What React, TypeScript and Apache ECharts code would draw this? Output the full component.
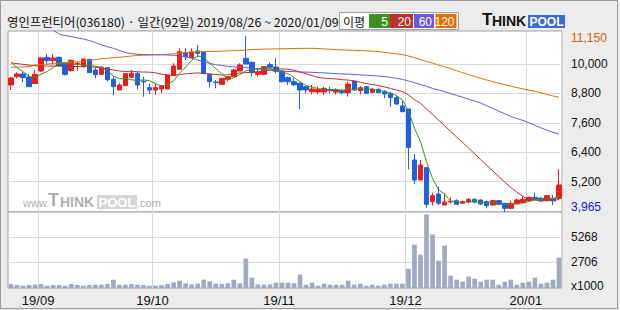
import React, { useEffect, useRef } from 'react';
import * as echarts from 'echarts';

const dates = [
  '2019/08/26','2019/08/27','2019/08/28','2019/08/29','2019/08/30',
  '2019/09/02','2019/09/03','2019/09/04','2019/09/05','2019/09/06','2019/09/09','2019/09/10','2019/09/11','2019/09/16','2019/09/17','2019/09/18','2019/09/19','2019/09/20','2019/09/23','2019/09/24','2019/09/25','2019/09/26','2019/09/27','2019/09/30',
  '2019/10/01','2019/10/02','2019/10/04','2019/10/07','2019/10/08','2019/10/10','2019/10/11','2019/10/14','2019/10/15','2019/10/16','2019/10/17','2019/10/18','2019/10/21','2019/10/22','2019/10/23','2019/10/24','2019/10/25','2019/10/28','2019/10/29','2019/10/30','2019/10/31',
  '2019/11/01','2019/11/04','2019/11/05','2019/11/06','2019/11/07','2019/11/08','2019/11/11','2019/11/12','2019/11/13','2019/11/14','2019/11/15','2019/11/18','2019/11/19','2019/11/20','2019/11/21','2019/11/22','2019/11/25','2019/11/26','2019/11/27','2019/11/28','2019/11/29',
  '2019/12/02','2019/12/03','2019/12/04','2019/12/05','2019/12/06','2019/12/09','2019/12/10','2019/12/11','2019/12/12','2019/12/13','2019/12/16','2019/12/17','2019/12/18','2019/12/19','2019/12/20','2019/12/23','2019/12/24','2019/12/26','2019/12/27','2019/12/30',
  '2020/01/02','2020/01/03','2020/01/06','2020/01/07','2020/01/08','2020/01/09',
];

const opens = [
  9147, 9487, 9596, 9473, 9201, 9718, 10276, 10140, 10276, 10045,
  9732, 9990, 9895, 10194, 9759, 9582, 9854, 9378, 8943, 9120,
  9460, 9609, 9297, 9038, 8943, 8984, 8984, 9528, 9786, 10466,
  10262, 10534, 10493, 9582, 9270, 9174, 9378, 9487, 9718, 10235,
  10072, 9582, 9582, 9977, 9881, 9718, 9446, 9283, 9215, 9079,
  8875, 8861, 8861, 8957, 8861, 8916, 8834, 9310, 8916, 9079,
  8848, 8970, 8875, 8807, 8630, 8290, 8168, 6087, 5271, 5774,
  4387, 4700, 4251, 4373, 4428, 4319, 4373, 4482, 4455, 4387,
  4251, 4428, 4319, 4115, 4292, 4346, 4428, 4564, 4523, 4428,
  4523, 4523,
];
const closes = [
  9433, 9596, 9446, 9079, 9582, 10249, 10140, 10249, 9936, 9582,
  10153, 10031, 10208, 9650, 9569, 9868, 9365, 9079, 9147, 9609,
  9623, 9147, 9270, 8943, 9038, 9106, 9555, 9922, 10507, 10303,
  10493, 10439, 9623, 9283, 9242, 9419, 9487, 9759, 9963, 10004,
  9650, 9677, 9895, 9868, 9705, 9283, 9283, 9160, 8943, 8943,
  8984, 8957, 9011, 8916, 8943, 8834, 9188, 8943, 9038, 8807,
  8970, 8834, 8780, 8630, 8372, 8059, 6604, 5271, 5883, 4278,
  4632, 4319, 4373, 4401, 4278, 4387, 4482, 4373, 4292, 4224,
  4428, 4278, 4115, 4319, 4455, 4482, 4564, 4482, 4414, 4632,
  4414, 5067,
];
const lows = [
  8943, 9419, 9256, 9079, 9201, 9677, 9963, 9977, 9895, 9528,
  9691, 9732, 9854, 9650, 9419, 9555, 9283, 8739, 8943, 9120,
  9460, 8970, 8671, 8780, 8739, 8807, 8984, 9528, 9786, 10167,
  10262, 10276, 9582, 9052, 9011, 9174, 9283, 9487, 9718, 10004,
  9487, 9487, 9555, 9827, 9623, 9256, 9147, 9106, 8168, 8807,
  8766, 8766, 8739, 8807, 8766, 8766, 8671, 8902, 8766, 8766,
  8820, 8807, 8603, 8263, 8331, 8032, 5706, 5108, 5271, 4142,
  4224, 4251, 4251, 4319, 4278, 4292, 4319, 4319, 4251, 4115,
  4224, 4251, 3965, 4088, 4292, 4346, 4428, 4455, 4387, 4387,
  4251, 4455,
];
const highs = [
  9487, 9664, 9691, 9596, 9759, 10276, 10412, 10412, 10303, 10085,
  10194, 10099, 10221, 10194, 9854, 9922, 9854, 9487, 9215, 9609,
  9759, 9691, 9487, 9215, 9215, 9147, 9555, 10031, 10643, 10643,
  10643, 10779, 10493, 9623, 9351, 9419, 9514, 9800, 10031, 11150,
  10099, 9827, 9895, 10058, 10235, 9759, 9487, 9446, 9242, 9079,
  9147, 9079, 9079, 9079, 9011, 8970, 9283, 9310, 9106, 9106,
  9011, 9011, 8943, 8875, 8698, 8508, 8168, 6332, 6087, 5774,
  4754, 4999, 4727, 4564, 4482, 4428, 4523, 4523, 4482, 4428,
  4455, 4455, 4346, 4428, 4523, 4618, 4591, 4754, 4591, 4659,
  4659, 5706,
];
const volumes = [
  416, 312, 243, 312, 347, 416, 243, 312, 312, 243,
  416, 312, 243, 312, 347, 347, 416, 868, 347, 347,
  416, 347, 312, 243, 243, 312, 416, 590, 763, 486,
  382, 451, 868, 694, 451, 416, 486, 868, 486, 3054,
  1076, 382, 347, 382, 555, 555, 555, 486, 1388, 347,
  555, 243, 451, 347, 347, 347, 763, 347, 451, 243,
  347, 243, 347, 451, 451, 451, 2013, 4511, 3470, 7634,
  5552, 2845, 4407, 1284, 868, 659, 1180, 972, 659, 868,
  868, 347, 659, 868, 347, 555, 659, 1076, 451, 555,
  868, 3158,
];
const ma5 = [
  10080, 9850, 9690, 9500, 9427, 9590, 9699, 9860, 10031, 10031,
  10012, 9990, 9982, 9925, 9922, 9865, 9732, 9506, 9406, 9414,
  9365, 9321, 9359, 9318, 9204, 9101, 9182, 9313, 9626, 9879,
  10156, 10333, 10273, 10028, 9816, 9601, 9411, 9438, 9574, 9726,
  9773, 9811, 9838, 9819, 9759, 9686, 9607, 9460, 9275, 9122,
  9063, 8997, 8968, 8962, 8962, 8932, 8978, 8965, 8989, 8962,
  8989, 8918, 8886, 8804, 8717, 8535, 8089, 7387, 6838, 6019,
  5334, 4877, 4697, 4401, 4401, 4352, 4384, 4384, 4362, 4352,
  4360, 4319, 4267, 4273, 4319, 4330, 4387, 4460, 4479, 4515,
  4501, 4602,
];
const ma20 = [
  10050, 10020, 9990, 9960, 9930, 9920, 9920, 9920, 9920, 9910,
  9900, 9900, 9900, 9890, 9870, 9840, 9800, 9760, 9720, 9699,
  9708, 9686, 9677, 9670, 9643, 9586, 9556, 9540, 9569, 9605,
  9622, 9642, 9613, 9594, 9578, 9556, 9562, 9596, 9637, 9656,
  9658, 9684, 9715, 9762, 9795, 9804, 9790, 9752, 9674, 9606,
  9531, 9456, 9426, 9407, 9393, 9363, 9348, 9308, 9261, 9201,
  9167, 9125, 9070, 9008, 8941, 8880, 8746, 8551, 8398, 8165,
  7948, 7716, 7484, 7258, 7025, 6802, 6567, 6339, 6101, 5872,
  5645, 5417, 5184, 4968, 4773, 4594, 4492, 4452, 4429, 4447,
  4436, 4473,
];
const ma60 = [
  null, null, null, null, null, null, null, 11380, 11220, 11165,
  11120, 11070, 11024, 10960, 10880, 10790, 10710, 10643, 10560, 10470,
  10430, 10400, 10390, 10385, 10380, 10375, 10370, 10360, 10340, 10290,
  10240, 10170, 10090, 10030, 9975, 9940, 9905, 9885, 9870, 9855,
  9830, 9800, 9775, 9750, 9725, 9710, 9700, 9690, 9680, 9672,
  9664, 9655, 9640, 9625, 9610, 9600, 9590, 9575, 9560, 9545,
  9530, 9515, 9490, 9460, 9420, 9375, 9310, 9240, 9170, 9090,
  9010, 8940, 8875, 8800, 8725, 8650, 8570, 8490, 8410, 8300,
  8190, 8080, 7970, 7860, 7780, 7700, 7610, 7500, 7400, 7300,
  7216, 7140,
];
const ma120 = [
  9870, 9875, 9880, 9900, 9960, 9980, 10000, 10020, 10040, 10060,
  10080, 10090, 10100, 10130, 10180, 10220, 10240, 10260, 10280, 10300,
  10330, 10350, 10360, 10370, 10380, 10390, 10400, 10420, 10450, 10470,
  10490, 10500, 10510, 10515, 10520, 10530, 10540, 10550, 10560, 10575,
  10590, 10600, 10610, 10615, 10620, 10625, 10630, 10635, 10640, 10643,
  10643, 10635, 10620, 10605, 10590, 10580, 10570, 10560, 10550, 10540,
  10530, 10507, 10480, 10450, 10420, 10390, 10330, 10260, 10190, 10110,
  10040, 9960, 9890, 9810, 9730, 9650, 9570, 9490, 9420, 9350,
  9280, 9220, 9160, 9100, 9040, 8985, 8940, 8890, 8830, 8760,
  8700, 8650,
];

const priceGridValues = [5200, 6400, 7600, 8800, 10000];
const priceHigh = 11150;
const priceLow = 3965;
const volumeGridValues = [2706, 5268];
const volumeUnitLabel = 'x1000';
const maLabels = ['5', '20', '60', '120'];
const titleText = '영인프런티어(036180) · 일간(92일) 2019/08/26 ~ 2020/01/09';

const UP = '#ee1c1c';
const DOWN = '#1f5fe0';
const MA_COLORS = ['#3d8f1f', '#c0302a', '#6a5ad8', '#e07000'];
const GRID = '#d9d9d9';
const KR = '"Noto Sans CJK KR", sans-serif';
const LAT = '"Liberation Sans", Arial, sans-serif';

const fmt = (v: number) => String(v).replace(/\B(?=(\d{3})+(?!\d))/g, ',');

const monthStarts: number[] = [];
dates.forEach((d, i) => {
  if (i > 0 && d.slice(0, 7) !== dates[i - 1].slice(0, 7)) monthStarts.push(i);
});

export default function App() {
  const ref = useRef<HTMLDivElement>(null);
  useEffect(() => {
    if (!ref.current) return;
    const chart = echarts.init(ref.current, null, { renderer: 'svg' });
    const candles = dates.map((_, i) => [opens[i], closes[i], lows[i], highs[i]]);
    const isMonth = (i: number) => monthStarts.indexOf(i) >= 0;

    const legendX = [369, 390, 414, 435.5];
    const legendW = [21, 23, 20, 21];

    const graphic: any[] = [
      { type: 'rect', shape: { x: 0.5, y: 0.5, width: 617, height: 308 }, style: { fill: 'none', stroke: '#9a9a9a', lineWidth: 1 }, silent: true },
      { type: 'text', x: 7, y: 22, style: { text: titleText, font: `12.4px ${KR}`, fill: '#111', verticalAlign: 'middle' } },
      { type: 'rect', shape: { x: 339.5, y: 12.5, width: 119, height: 17 }, style: { fill: '#fff', stroke: '#a0a0a0', lineWidth: 1 } },
      { type: 'text', x: 343, y: 21, style: { text: '이평', font: `12px ${KR}`, fill: '#111', verticalAlign: 'middle' } },
      // logo
      { type: 'text', x: 482, y: 28, style: { text: 'T', font: `bold 17px ${LAT}`, fill: '#111', verticalAlign: 'bottom' } },
      { type: 'text', x: 492, y: 28, style: { text: 'HINK', font: `bold 14px ${LAT}`, fill: '#111', verticalAlign: 'bottom' } },
      { type: 'rect', shape: { x: 528, y: 15, width: 37, height: 13 }, style: { fill: '#3a6bd6' } },
      { type: 'text', x: 546.5, y: 28, style: { text: 'POOL', font: `bold 12px ${LAT}`, fill: '#fff', align: 'center', verticalAlign: 'bottom' } },
      // watermark
      { type: 'text', x: 23, y: 208, z: 1, style: { text: 'www.', font: `11px ${LAT}`, fill: '#b0b0b0', verticalAlign: 'bottom' } },
      { type: 'text', x: 48, y: 209, z: 1, style: { text: 'T', font: `bold 18px ${LAT}`, fill: '#b0b0b0', verticalAlign: 'bottom' } },
      { type: 'text', x: 60, y: 209, z: 1, style: { text: 'HINK', font: `bold 14px ${LAT}`, fill: '#b0b0b0', verticalAlign: 'bottom' } },
      { type: 'rect', z: 1, shape: { x: 97, y: 195, width: 40, height: 14 }, style: { fill: '#d6d6d6' } },
      { type: 'text', x: 117, y: 209, z: 1, style: { text: 'POOL', font: `bold 13px ${LAT}`, fill: '#fff', align: 'center', verticalAlign: 'bottom' } },
      { type: 'text', x: 137, y: 208, z: 1, style: { text: '.com', font: `11px ${LAT}`, fill: '#b0b0b0', verticalAlign: 'bottom' } },
    ];
    maLabels.forEach((lab, k) => {
      graphic.push({ type: 'rect', shape: { x: legendX[k], y: 14, width: legendW[k], height: 14 }, style: { fill: MA_COLORS[k] } });
      graphic.push({ type: 'text', x: legendX[k] + legendW[k] - 2, y: 21.5, style: { text: lab, font: `12px ${LAT}`, fill: '#fff', align: 'right', verticalAlign: 'middle' } });
    });

    const xBase = (gridIndex: number, showLabel: boolean) => ({
      type: 'category',
      gridIndex,
      data: dates,
      boundaryGap: true,
      axisLine: { show: false },
      axisTick: { show: false },
      splitLine: { show: true, interval: (i: number) => isMonth(i), lineStyle: { color: GRID, width: 1 } },
      axisLabel: showLabel
        ? {
            show: true,
            interval: (i: number) => isMonth(i),
            formatter: (v: string) => v.slice(2, 7),
            color: '#111',
            fontSize: 13,
            fontFamily: LAT,
            margin: 6,
            padding: [0, 6, 0, 0],
          }
        : { show: false },
    });

    const option: any = {
      animation: false,
      backgroundColor: '#ececec',
      graphic,
      grid: [
        { left: 8, top: 31, width: 554, height: 181, show: true, backgroundColor: '#fff', borderColor: '#a0a0a0', borderWidth: 1 },
        { left: 8, top: 212, width: 554, height: 76, show: true, backgroundColor: '#fff', borderColor: '#a0a0a0', borderWidth: 1 },
      ],
      xAxis: [xBase(0, false), xBase(1, true)],
      yAxis: [
        {
          type: 'value', gridIndex: 0, position: 'right', min: priceLow, max: 11350,
          axisLine: { show: false },
          axisTick: { show: false, customValues: priceGridValues },
          splitLine: { show: true, lineStyle: { color: GRID, width: 1 } },
          axisLabel: {
            customValues: [priceLow, ...priceGridValues, priceHigh],
            margin: 9,
            fontSize: 12,
            fontFamily: LAT,
            color: '#111',
            formatter: (v: number) => (v === priceHigh ? `{hi|${fmt(v)}}` : v === priceLow ? `{lo|${fmt(v)}}` : fmt(v)),
            rich: {
              hi: { color: '#cc6600', fontSize: 12, fontFamily: LAT, padding: [5, 0, 0, 0] },
              lo: { color: '#1a1acc', fontSize: 12, fontFamily: LAT, padding: [0, 0, 11, 0] },
            },
          },
        },
        {
          type: 'value', gridIndex: 1, position: 'right', min: 0, max: 7900,
          axisLine: { show: false },
          axisTick: { show: false, customValues: volumeGridValues },
          splitLine: { show: true, lineStyle: { color: GRID, width: 1 } },
          axisLabel: {
            customValues: [0, ...volumeGridValues],
            margin: 9,
            fontSize: 12,
            fontFamily: LAT,
            color: '#111',
            formatter: (v: number) => (v === 0 ? `{u|${volumeUnitLabel}}` : String(v)),
            rich: { u: { fontSize: 12, fontFamily: LAT, color: '#111', padding: [0, 0, 4, 0] } },
          },
        },
      ],
      series: [
        {
          type: 'candlestick', xAxisIndex: 0, yAxisIndex: 0, data: candles, barWidth: 5,
          itemStyle: { color: UP, color0: DOWN, borderColor: UP, borderColor0: DOWN, borderWidth: 1 },
          silent: true,
        },
        ...[ma120, ma60, ma20, ma5].map((d, k) => ({
          type: 'line', xAxisIndex: 0, yAxisIndex: 0, data: d, showSymbol: false, symbol: 'none',
          lineStyle: { color: MA_COLORS[3 - k], width: 1 }, silent: true, connectNulls: false,
        })),
        {
          type: 'bar', xAxisIndex: 1, yAxisIndex: 1, data: volumes, barCategoryGap: '22%',
          itemStyle: { color: '#a2aac2' }, silent: true,
        },
      ],
    };
    chart.setOption(option);
    return () => chart.dispose();
  }, []);
  return <div ref={ref} style={{ position: 'fixed', left: 0, top: 0, width: 620, height: 310 }} />;
}
